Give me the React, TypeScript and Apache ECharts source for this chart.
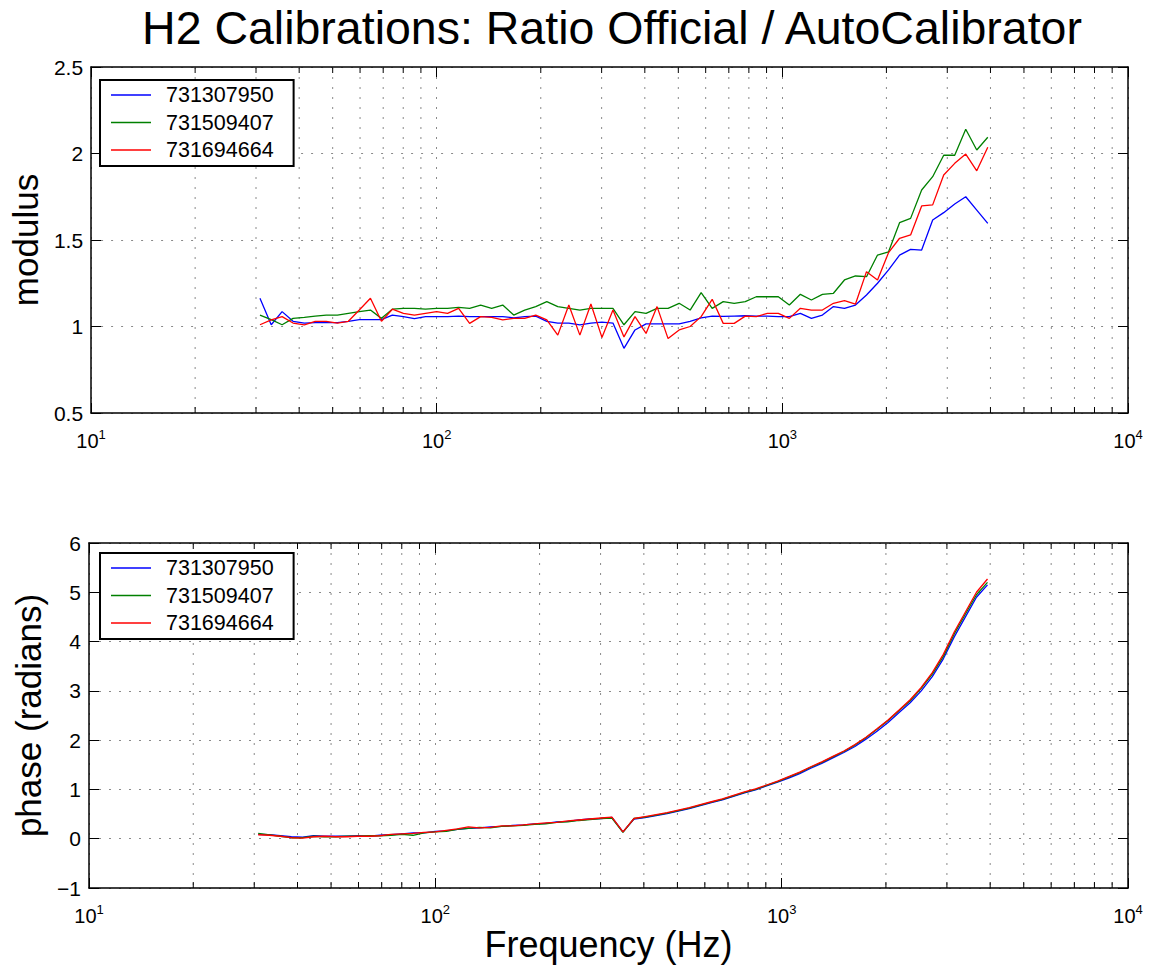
import React, { useEffect, useRef } from 'react';
import * as echarts from 'echarts';

const FONT = "'Liberation Sans', Arial, Helvetica, sans-serif";

const titleText = 'H2 Calibrations: Ratio Official / AutoCalibrator';
const seriesNames = ['731307950', '731509407', '731694664'];
const seriesColors = ['#0000ff', '#008000', '#ff0000'];

const freq = [30.8, 33.2, 35.7, 38.4, 41.4, 44.5, 47.9, 51.6, 55.5, 59.7, 64.3, 69.2, 74.4, 80.1, 86.2, 92.8, 99.9, 107.5, 115.7, 124.5, 134.0, 144.2, 155.2, 167.0, 179.7, 193.4, 208.2, 224.0, 241.1, 259.5, 279.3, 300.6, 323.5, 348.1, 374.7, 403.3, 434.0, 467.0, 502.8, 541.0, 582.1, 626.6, 674.3, 725.6, 781.0, 840.5, 904.5, 973.4, 1047.6, 1127.4, 1213.4, 1305.8, 1405.3, 1512.4, 1627.6, 1751.6, 1885.0, 2028.7, 2183.2, 2349.6, 2529.3, 2722.0, 2929.4, 3152.6, 3392.8, 3651.3, 3929.4];

const modBlue = [1.163, 1.01, 1.086, 1.03, 1.02, 1.022, 1.022, 1.022, 1.03, 1.04, 1.04, 1.04, 1.066, 1.057, 1.045, 1.057, 1.057, 1.057, 1.06, 1.057, 1.057, 1.057, 1.057, 1.05, 1.057, 1.06, 1.03, 1.02, 1.02, 1.01, 1.02, 1.025, 1.02, 0.874, 0.98, 1.015, 1.015, 1.015, 1.015, 1.03, 1.05, 1.06, 1.058, 1.06, 1.062, 1.06, 1.06, 1.057, 1.057, 1.076, 1.047, 1.066, 1.115, 1.105, 1.124, 1.182, 1.25, 1.327, 1.413, 1.446, 1.442, 1.616, 1.658, 1.708, 1.75, 1.673, 1.596];
const modGreen = [1.066, 1.04, 1.01, 1.047, 1.053, 1.06, 1.066, 1.066, 1.076, 1.086, 1.095, 1.047, 1.10, 1.105, 1.105, 1.10, 1.105, 1.105, 1.11, 1.105, 1.124, 1.105, 1.124, 1.066, 1.095, 1.115, 1.144, 1.115, 1.105, 1.095, 1.105, 1.105, 1.105, 1.01, 1.086, 1.076, 1.105, 1.105, 1.134, 1.095, 1.196, 1.105, 1.144, 1.134, 1.144, 1.172, 1.172, 1.172, 1.124, 1.186, 1.153, 1.186, 1.192, 1.269, 1.292, 1.288, 1.413, 1.432, 1.60, 1.625, 1.789, 1.866, 1.99, 1.99, 2.14, 2.02, 2.094];
const modRed = [1.01, 1.038, 1.057, 1.02, 1.01, 1.03, 1.03, 1.02, 1.03, 1.095, 1.163, 1.03, 1.10, 1.076, 1.066, 1.076, 1.086, 1.076, 1.105, 1.018, 1.057, 1.053, 1.038, 1.047, 1.047, 1.066, 1.038, 0.95, 1.124, 0.95, 1.13, 0.937, 1.095, 0.94, 1.057, 0.96, 1.115, 0.93, 0.98, 1.0, 1.057, 1.157, 1.018, 1.018, 1.06, 1.057, 1.076, 1.076, 1.047, 1.105, 1.095, 1.095, 1.134, 1.149, 1.13, 1.317, 1.269, 1.427, 1.51, 1.529, 1.697, 1.703, 1.876, 1.943, 1.997, 1.90, 2.036];

const phaseBlue = [0.09, 0.08, 0.06, 0.04, 0.03, 0.06, 0.05, 0.05, 0.05, 0.06, 0.05, 0.07, 0.08, 0.10, 0.12, 0.12, 0.15, 0.16, 0.19, 0.21, 0.22, 0.24, 0.25, 0.27, 0.28, 0.30, 0.31, 0.34, 0.35, 0.38, 0.40, 0.41, 0.43, 0.14, 0.40, 0.43, 0.47, 0.51, 0.56, 0.61, 0.67, 0.73, 0.79, 0.86, 0.93, 0.99, 1.07, 1.15, 1.23, 1.32, 1.43, 1.53, 1.64, 1.75, 1.87, 2.02, 2.18, 2.36, 2.56, 2.76, 3.00, 3.29, 3.65, 4.10, 4.50, 4.90, 5.15];
const phaseGreen = [0.11, 0.08, 0.05, 0.02, 0.02, 0.05, 0.04, 0.04, 0.05, 0.05, 0.06, 0.06, 0.07, 0.09, 0.07, 0.12, 0.14, 0.15, 0.19, 0.21, 0.23, 0.22, 0.25, 0.26, 0.27, 0.29, 0.30, 0.33, 0.34, 0.37, 0.39, 0.41, 0.42, 0.13, 0.41, 0.44, 0.48, 0.52, 0.57, 0.62, 0.68, 0.74, 0.80, 0.87, 0.94, 1.00, 1.08, 1.16, 1.25, 1.34, 1.45, 1.55, 1.66, 1.77, 1.90, 2.05, 2.22, 2.40, 2.60, 2.80, 3.05, 3.34, 3.70, 4.16, 4.56, 4.95, 5.20];
const phaseRed = [0.08, 0.07, 0.05, 0.02, 0.01, 0.04, 0.05, 0.04, 0.04, 0.05, 0.05, 0.06, 0.09, 0.10, 0.11, 0.13, 0.14, 0.17, 0.20, 0.24, 0.22, 0.23, 0.26, 0.26, 0.28, 0.30, 0.32, 0.33, 0.36, 0.38, 0.40, 0.42, 0.44, 0.14, 0.41, 0.45, 0.49, 0.53, 0.58, 0.63, 0.69, 0.75, 0.81, 0.88, 0.95, 1.01, 1.09, 1.17, 1.26, 1.35, 1.46, 1.56, 1.67, 1.78, 1.91, 2.06, 2.23, 2.41, 2.61, 2.82, 3.07, 3.37, 3.74, 4.20, 4.60, 5.00, 5.27];

const minorX = [20, 30, 40, 50, 60, 70, 80, 90, 200, 300, 400, 500, 600, 700, 800, 900, 2000, 3000, 4000, 5000, 6000, 7000, 8000, 9000];

const modRange = { min: 0.5, max: 2.5, interval: 0.5 };
const phaseRange = { min: -1, max: 6, interval: 1 };
const yNames = ['modulus', 'phase (radians)'];
const xName = 'Frequency (Hz)';

export default function App() {
  const ref = useRef<HTMLDivElement>(null);

  useEffect(() => {
    if (!ref.current) return;
    const chart = echarts.init(ref.current, null, { renderer: 'svg' });

    const grids = [
      { left: 89, top: 67, width: 1039, height: 346 },
      { left: 89, top: 543, width: 1039, height: 345 },
    ];
    const ranges = [modRange, phaseRange];
    const data = [
      [modBlue, modGreen, modRed],
      [phaseBlue, phaseGreen, phaseRed],
    ];

    const axisLineStyle = { color: '#000', width: 1.5 };
    const gridLineStyle = { type: [2, 8] as any, color: '#8a8a8a', width: 1 };

    const xAxes: any[] = [];
    const yAxes: any[] = [];
    grids.forEach((_, g) => {
      ['bottom', 'top'].forEach((pos) => {
        const isBottom = pos === 'bottom';
        xAxes.push({
          type: 'log',
          logBase: 10,
          min: 10,
          max: 10000,
          gridIndex: g,
          position: pos,
          axisLine: { show: true, onZero: false, lineStyle: axisLineStyle },
          axisTick: { show: true, inside: true, length: 10, lineStyle: { color: '#000', width: 1 } },
          axisLabel: isBottom
            ? {
                show: true,
                margin: 15,
                color: '#000',
                fontSize: 20,
                fontFamily: FONT,
                formatter: (v: number) => '10{sup|' + Math.round(Math.log10(v)) + '}',
                rich: { sup: { fontSize: 13, color: '#000', fontFamily: FONT, padding: [0, 0, 13, 0] } },
              }
            : { show: false },
          splitLine: { show: isBottom, lineStyle: gridLineStyle },
          name: isBottom && g === 1 ? xName : '',
          nameLocation: 'middle',
          nameGap: 37,
          nameTextStyle: { fontSize: 36, color: '#000', fontFamily: FONT },
        });
      });
      const r = ranges[g];
      ['left', 'right'].forEach((pos) => {
        const isLeft = pos === 'left';
        yAxes.push({
          type: 'value',
          gridIndex: g,
          position: pos,
          min: r.min,
          max: r.max,
          interval: r.interval,
          axisLine: { show: true, onZero: false, lineStyle: axisLineStyle },
          axisTick: { show: true, inside: true, length: 10, lineStyle: { color: '#000', width: 1 } },
          axisLabel: isLeft
            ? {
                show: true,
                margin: 8,
                color: '#000',
                fontSize: 21,
                fontFamily: FONT,
                formatter: (v: number) => String(v).replace('-', '\u2212'),
              }
            : { show: false },
          splitLine: { show: isLeft, lineStyle: gridLineStyle },
          name: isLeft ? yNames[g] : '',
          nameLocation: 'middle',
          nameRotate: 90,
          nameGap: 38,
          nameTextStyle: { fontSize: 35, color: '#000', fontFamily: FONT },
        });
      });
    });

    const series: any[] = [];
    grids.forEach((_, g) => {
      const yMin = ranges[g].min;
      series.push({
        type: 'custom',
        xAxisIndex: g * 2,
        yAxisIndex: g * 2,
        silent: true,
        z: 1,
        data: minorX.map((v) => [v, yMin]),
        encode: { x: 0, y: 1 },
        renderItem: (params: any, api: any) => {
          const cs = params.coordSys;
          const x = api.coord([api.value(0), api.value(1)])[0];
          const top = cs.y;
          const bottom = cs.y + cs.height;
          return {
            type: 'group',
            children: [
              { type: 'line', shape: { x1: x, y1: top, x2: x, y2: bottom }, style: { stroke: '#8a8a8a', lineWidth: 1, lineDash: [2, 8] } },
              { type: 'line', shape: { x1: x, y1: bottom, x2: x, y2: bottom - 6 }, style: { stroke: '#000', lineWidth: 1 } },
              { type: 'line', shape: { x1: x, y1: top, x2: x, y2: top + 6 }, style: { stroke: '#000', lineWidth: 1 } },
            ],
          };
        },
      });
      data[g].forEach((arr, k) => {
        series.push({
          type: 'line',
          name: seriesNames[k],
          xAxisIndex: g * 2,
          yAxisIndex: g * 2,
          data: freq.map((f, i) => [f, arr[i]]),
          symbol: 'none',
          showSymbol: false,
          lineStyle: { width: 1.3, color: seriesColors[k] },
          itemStyle: { color: seriesColors[k] },
          z: 2,
        });
      });
    });

    const option: any = {
      animation: false,
      backgroundColor: '#fff',
      title: {
        text: titleText,
        left: 612,
        top: 4,
        textAlign: 'center',
        padding: 0,
        textStyle: { fontSize: 46.5, fontWeight: 'normal', color: '#000', fontFamily: FONT },
      },
      legend: [0, 1].map((g) => ({
        data: seriesNames.map((n) => ({ name: n, icon: 'rect' })),
        orient: 'vertical',
        left: 100,
        top: g === 0 ? 80 : 553,
        itemWidth: 40,
        itemHeight: 1.5,
        itemGap: 5.5,
        padding: [4, 20, 5, 11],
        borderColor: '#000',
        borderWidth: 2,
        backgroundColor: '#fff',
        selectedMode: false,
        textStyle: { fontSize: 21.5, color: '#000', fontFamily: FONT, padding: [0, 0, 0, 10] },
      })),
      grid: grids.map((gr) => ({ ...gr, containLabel: false })),
      xAxis: xAxes,
      yAxis: yAxes,
      series,
    };

    chart.setOption(option);
    return () => chart.dispose();
  }, []);

  return <div ref={ref} style={{ position: 'absolute', left: 0, top: 0, width: 1150, height: 971 }} />;
}
